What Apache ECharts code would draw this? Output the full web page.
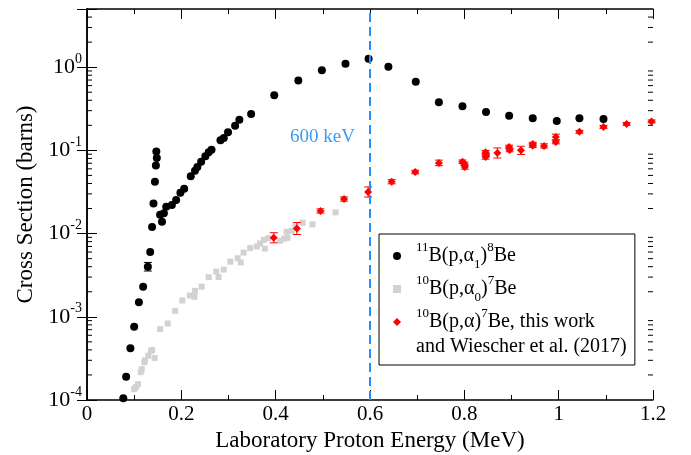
<!DOCTYPE html>
<html>
<head>
<meta charset="utf-8">
<script src="https://cdn.jsdelivr.net/npm/echarts@6/dist/echarts.min.js"></script>
<style>
  html, body { margin: 0; padding: 0; background: #fff; }
  #chart { width: 691px; height: 455px; }
</style>
</head>
<body>
<div id="chart"></div>
<script>
// 11B(p,a1)8Be  (energy MeV, cross section barns)
var b11X = [0.077, 0.083, 0.092, 0.100, 0.110, 0.119, 0.129, 0.134, 0.138, 0.141, 0.144, 0.146, 0.148, 0.147,
  0.155, 0.159, 0.163, 0.168, 0.180, 0.189, 0.198, 0.206, 0.220, 0.229, 0.234, 0.242, 0.251, 0.258, 0.264,
  0.283, 0.290, 0.299, 0.314, 0.323, 0.348, 0.397, 0.448, 0.498, 0.548, 0.597, 0.639, 0.697, 0.746, 0.796,
  0.846, 0.895, 0.945, 0.996, 1.044, 1.095];
var b11Y = [1.05e-4, 1.9e-4, 4.2e-4, 7.6e-4, 1.5e-3, 2.3e-3, 4.0e-3, 6.0e-3, 0.012, 0.023, 0.042, 0.066, 0.081, 0.097,
  0.0168, 0.0139, 0.0175, 0.021, 0.022, 0.0254, 0.031, 0.0346, 0.049, 0.057, 0.063, 0.073, 0.085, 0.095, 0.102,
  0.132, 0.141, 0.165, 0.198, 0.234, 0.274, 0.46, 0.69, 0.92, 1.10, 1.26, 1.01, 0.67, 0.38, 0.34,
  0.29, 0.26, 0.243, 0.226, 0.243, 0.239];
// one visible error bar on the black data
var b11ErrX = [0.129];
var b11ErrLo = [3.55e-3];
var b11ErrHi = [4.5e-3];

// 10B(p,a0)7Be
var b10aX = [0.100, 0.104, 0.108, 0.114, 0.116, 0.1215, 0.123, 0.130, 0.1357, 0.138, 0.1435, 0.155, 0.171, 0.187,
  0.202, 0.218, 0.2275, 0.229, 0.243, 0.258, 0.274, 0.279, 0.290, 0.304, 0.3195, 0.326, 0.332, 0.346, 0.360,
  0.367, 0.377, 0.375, 0.384, 0.410, 0.418, 0.425, 0.423, 0.434, 0.442, 0.457, 0.478, 0.527];
var b10aY = [1.35e-4, 1.43e-4, 1.55e-4, 2.16e-4, 2.35e-4, 2.84e-4, 3.0e-4, 3.4e-4, 3.9e-4, 4.0e-4, 3.2e-4, 7.1e-4, 8.3e-4, 1.18e-3,
  1.57e-3, 1.8e-3, 1.74e-3, 2.05e-3, 2.3e-3, 3.0e-3, 3.5e-3, 3.0e-3, 3.7e-3, 4.6e-3, 5.05e-3, 4.5e-3, 5.9e-3, 6.7e-3, 7.0e-3,
  7.6e-3, 6.6e-3, 8.4e-3, 8.8e-3, 8.2e-3, 8.7e-3, 8.9e-3, 0.0105, 0.0108, 0.0122, 0.0135, 0.0129, 0.018];

// 10B(p,a)7Be, this work and Wiescher et al. (2017); err = multiplicative half width
var b10X = [0.396, 0.445, 0.495, 0.545, 0.596, 0.646, 0.696, 0.746, 0.796, 0.800, 0.801, 0.845, 0.846, 0.845,
  0.870, 0.895, 0.896, 0.920, 0.945, 0.945, 0.969, 0.994, 0.994, 1.044, 1.095, 1.144, 1.197];
var b10Y = [0.0089, 0.0115, 0.0187, 0.026, 0.0316, 0.042, 0.055, 0.0707, 0.073, 0.069, 0.063, 0.095, 0.088, 0.083,
  0.093, 0.110, 0.101, 0.100, 0.119, 0.114, 0.113, 0.145, 0.126, 0.167, 0.191, 0.208, 0.223];
var b10Err = [1.15, 1.18, 1.06, 1.06, 1.15, 1.06, 1.05, 1.08, 1.05, 1.05, 1.06, 1.05, 1.05, 1.06,
  1.15, 1.05, 1.05, 1.12, 1.05, 1.05, 1.06, 1.08, 1.05, 1.04, 1.04, 1.04, 1.04];

var xTicks = [0, 0.2, 0.4, 0.6, 0.8, 1, 1.2];
var decades = [1e-4, 1e-3, 1e-2, 1e-1, 1];
var markEnergy = 0.6;
var markText = '600 keV';

var F = 'Liberation Serif';
var chart = echarts.init(document.getElementById('chart'));

var minorTickValues = [];
decades.forEach(function (d) {
  for (var m = 2; m <= 9; m++) {
    if (d * m < 5) minorTickValues.push(d * m);
  }
});

function pairs(xs, ys) {
  return xs.map(function (x, i) { return [x, ys[i]]; });
}

function errBar(color) {
  return function (params, api) {
    var x = api.value(0);
    var lo = api.coord([x, api.value(1)]);
    var hi = api.coord([x, api.value(2)]);
    var w = 4;
    var st = { stroke: color, lineWidth: 1 };
    return {
      type: 'group',
      children: [
        { type: 'line', shape: { x1: lo[0], y1: lo[1], x2: hi[0], y2: hi[1] }, style: st },
        { type: 'line', shape: { x1: lo[0] - w, y1: lo[1], x2: lo[0] + w, y2: lo[1] }, style: st },
        { type: 'line', shape: { x1: hi[0] - w, y1: hi[1], x2: hi[0] + w, y2: hi[1] }, style: st }
      ]
    };
  };
}

var legendNames = {
  '11B(p,a1)8Be': '{sup|11}{b|B(p,α}{sub|1}{b|)}{sup|8}{b|Be}',
  '10B(p,a0)7Be': '{sup|10}{b|B(p,α}{sub|0}{b|)}{sup|7}{b|Be}',
  '10B(p,a)7Be': '{sup|10}{b|B(p,α)}{sup|7}{b|Be, this work}'
};

var axisLineStyle = { color: '#000', width: 1.5 };

var xBase = {
  type: 'value', min: 0, max: 1.2, interval: 0.2,
  axisLine: { show: true, lineStyle: axisLineStyle },
  axisTick: { show: true, inside: true, length: 10, lineStyle: { color: '#000', width: 1 } },
  minorTick: { show: true, splitNumber: 2, length: 5, lineStyle: { color: '#000', width: 1 } },
  splitLine: { show: false }
};
var yBase = {
  type: 'log', logBase: 10, min: 1e-4, max: 5,
  axisLine: { show: true, lineStyle: axisLineStyle },
  axisTick: { show: true, inside: true, length: 10, lineStyle: { color: '#000', width: 1 } },
  splitLine: { show: false }
};

chart.setOption({
  animation: false,
  grid: { left: 87, right: 38, top: 9, bottom: 55, containLabel: false, outerBoundsMode: 'none' },
  xAxis: [
    Object.assign({}, xBase, {
      position: 'bottom',
      name: 'Laboratory Proton Energy (MeV)',
      nameLocation: 'middle', nameGap: 29,
      nameTextStyle: { fontFamily: F, fontSize: 23, color: '#000' },
      axisLabel: {
        fontFamily: F, fontSize: 21, color: '#000', margin: 4,
        formatter: function (v) { return xTicks.indexOf(+v.toFixed(1)) >= 0 ? String(+v.toFixed(1)) : ''; }
      }
    }),
    Object.assign({}, xBase, { position: 'top', axisLabel: { show: false } })
  ],
  yAxis: [
    Object.assign({}, yBase, {
      position: 'left',
      name: 'Cross Section (barns)',
      nameLocation: 'middle', nameGap: 48,
      nameTextStyle: { fontFamily: F, fontSize: 23, color: '#000' },
      axisLabel: {
        margin: 5,
        formatter: function (v) {
          var e = Math.log10(v);
          if (Math.abs(e - Math.round(e)) > 1e-6) return '';
          return '{b|10}{s|' + Math.round(e) + '}';
        },
        rich: {
          b: { fontFamily: F, fontSize: 22, lineHeight: 30, color: '#000' },
          s: { fontFamily: F, fontSize: 14, lineHeight: 12, verticalAlign: 'top', color: '#000' }
        }
      }
    }),
    Object.assign({}, yBase, { position: 'right', axisLabel: { show: false } })
  ],
  legend: {
    orient: 'vertical', left: 379, top: 234,
    padding: [7, 40, 33, 14],
    itemGap: 3, itemWidth: 8, itemHeight: 8,
    borderColor: '#000', borderWidth: 1, backgroundColor: '#fff',
    selectedMode: false,
    data: [
      { name: '11B(p,a1)8Be', icon: 'circle' },
      { name: '10B(p,a0)7Be', icon: 'rect' },
      { name: '10B(p,a)7Be', icon: 'diamond' }
    ],
    formatter: function (n) { return legendNames[n]; },
    textStyle: {
      padding: [0, 0, 0, 10],
      rich: {
        b: { fontFamily: F, fontSize: 20, lineHeight: 30, color: '#000' },
        sup: { fontFamily: F, fontSize: 13, lineHeight: 12, verticalAlign: 'top', color: '#000' },
        sub: { fontFamily: F, fontSize: 13, lineHeight: 18, verticalAlign: 'bottom', color: '#000' }
      }
    }
  },
  graphic: [
    { type: 'text', left: 416, top: 337, z: 100,
      style: { text: 'and Wiescher et al. (2017)', fontFamily: F, fontSize: 20, fill: '#000' } },
    { type: 'text', left: 290, top: 128,
      style: { text: markText, fontFamily: F, fontSize: 19, fill: '#3a9bf5' } }
  ],
  series: [
    {
      type: 'custom', name: 'minorTicks', silent: true, z: 1,
      data: minorTickValues.map(function (v) { return [0, v]; }),
      encode: { x: 0, y: 1 },
      renderItem: function (params, api) {
        var v = api.value(1);
        var L = api.coord([0, v]);
        var R = api.coord([1.2, v]);
        var st = { stroke: '#000', lineWidth: 1 };
        return {
          type: 'group',
          children: [
            { type: 'line', shape: { x1: L[0], y1: L[1], x2: L[0] + 5, y2: L[1] }, style: st },
            { type: 'line', shape: { x1: R[0] - 5, y1: R[1], x2: R[0], y2: R[1] }, style: st }
          ]
        };
      }
    },
    {
      type: 'scatter', name: '10B(p,a0)7Be', symbol: 'rect', symbolSize: 6, z: 2,
      itemStyle: { color: '#d2d2d2', opacity: 1 },
      data: pairs(b10aX, b10aY)
    },
    {
      type: 'scatter', name: '11B(p,a1)8Be', symbol: 'circle', symbolSize: 8, z: 3,
      itemStyle: { color: '#000', opacity: 1 },
      data: pairs(b11X, b11Y),
      markLine: {
        silent: true, symbol: 'none',
        label: { show: false },
        lineStyle: { color: '#1e90ff', type: [9, 5], width: 2 },
        data: [{ xAxis: markEnergy }]
      }
    },
    {
      type: 'custom', name: 'b11err', silent: true, z: 3,
      data: b11ErrX.map(function (x, i) { return [x, b11ErrLo[i], b11ErrHi[i]]; }),
      encode: { x: 0, y: [1, 2] },
      renderItem: errBar('#000')
    },
    {
      type: 'custom', name: 'b10err', silent: true, z: 4,
      data: b10X.map(function (x, i) { return [x, b10Y[i] / b10Err[i], b10Y[i] * b10Err[i]]; }),
      encode: { x: 0, y: [1, 2] },
      renderItem: errBar('#ff0000')
    },
    {
      type: 'scatter', name: '10B(p,a)7Be', symbol: 'diamond', symbolSize: 8, z: 5,
      itemStyle: { color: '#ff0000', opacity: 1 },
      data: pairs(b10X, b10Y)
    }
  ]
});
</script>
</body>
</html>
